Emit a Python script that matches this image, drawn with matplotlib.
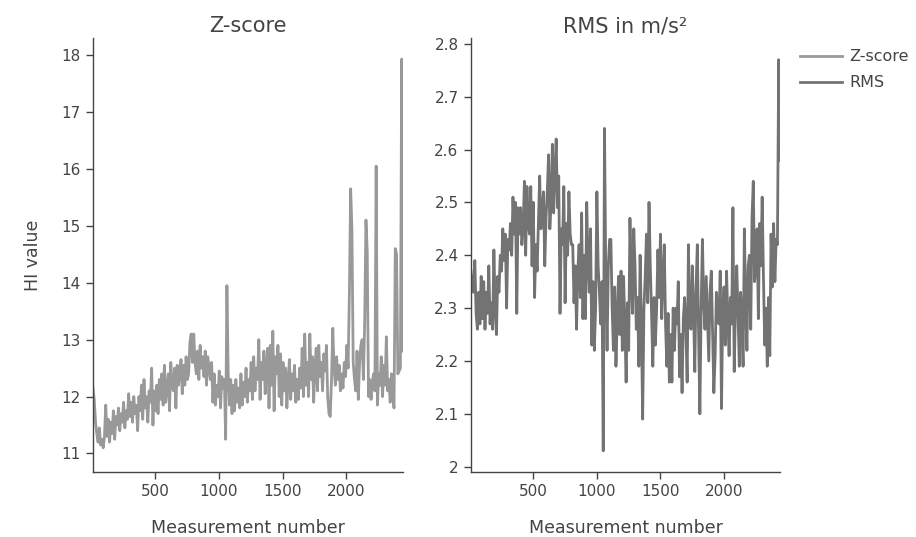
import numpy as np
import matplotlib
matplotlib.use("Agg")
import matplotlib.pyplot as plt
from matplotlib.ticker import FuncFormatter

# measurement numbers (every 10th measurement)
measurement = np.arange(13, 2444, 10)

zscore = [
    12.15, 11.95, 11.55, 11.35, 11.2, 11.45, 11.15, 11.25, 11.1, 11.3,
    11.85, 11.3, 11.6, 11.2, 11.55, 11.35, 11.75, 11.25, 11.65, 11.5,
    11.8, 11.4, 11.7, 11.55, 11.9, 11.45, 11.75, 11.6, 12.05, 11.65,
    11.9, 11.55, 12.0, 11.7, 11.85, 11.4, 12.0, 11.75, 12.2, 11.6,
    12.3, 11.8, 12.0, 11.55, 12.1, 11.9, 12.5, 11.5, 12.1, 11.75,
    12.2, 11.7, 12.3, 11.95, 12.4, 11.85, 12.55, 11.9, 12.15, 12.4,
    11.75, 12.6, 12.2, 12.1, 12.5, 11.8, 12.55, 12.2, 12.4, 12.65,
    12.05, 12.55, 12.2, 12.7, 12.3, 12.4, 12.95, 13.1, 12.6, 13.1,
    12.6, 12.4, 12.8, 12.3, 12.9, 12.5, 12.7, 12.35, 12.8, 12.2,
    12.7, 12.5, 12.3, 12.6, 11.9, 12.4, 11.85, 12.2, 12.0, 12.45,
    11.8, 12.35, 12.15, 12.3, 11.25, 13.95, 12.4, 11.85, 12.3, 11.7,
    12.2, 11.75, 12.3, 11.9, 12.15, 11.8, 12.4, 11.85, 12.25, 12.0,
    12.5, 11.9, 12.3, 12.1, 12.6, 11.95, 12.7, 12.1, 12.5, 12.3,
    13.0, 11.95, 12.6, 12.3, 12.8, 12.05, 12.55, 12.85, 11.8, 12.9,
    12.2, 13.15, 11.75, 12.7, 12.4, 12.9, 12.0, 12.75, 11.85, 12.6,
    12.1, 12.5, 11.8, 12.3, 12.65, 11.95, 12.4, 12.1, 12.55, 11.9,
    12.3, 11.95, 12.5, 12.15, 12.85, 12.0, 13.1, 12.2, 12.6, 12.0,
    13.1, 12.3, 12.7, 11.9, 12.5, 12.85, 12.1, 12.9, 12.35, 12.6,
    12.1, 12.75, 12.45, 12.9, 12.0, 11.7, 11.65, 12.3, 13.2, 12.5,
    12.2, 12.7, 12.3, 12.55, 12.1, 12.4, 12.15, 12.6, 12.35, 12.9,
    12.5, 13.8, 15.65, 14.95, 12.6, 12.3, 12.1, 12.8, 11.95, 12.6,
    12.9, 13.0, 12.3, 13.3, 15.1, 14.55, 12.0, 12.3, 11.95, 12.25,
    12.4, 12.1, 16.05, 11.85, 12.4, 12.2, 12.7, 12.0, 12.55, 12.2,
    13.05, 12.1, 12.3, 11.9, 12.4, 12.0, 11.8, 14.6, 14.5, 12.4,
    12.45, 12.5, 17.93, 12.8,
]

rms = [
    2.37, 2.34, 2.33, 2.39, 2.29, 2.26, 2.33, 2.27, 2.36, 2.28,
    2.35, 2.26, 2.33, 2.29, 2.38, 2.27, 2.31, 2.26, 2.41, 2.30,
    2.25, 2.36, 2.33, 2.40, 2.37, 2.45, 2.39, 2.44, 2.30, 2.43,
    2.41, 2.46, 2.40, 2.51, 2.44, 2.50, 2.29, 2.49, 2.44, 2.49,
    2.42, 2.45, 2.54, 2.40, 2.53, 2.46, 2.44, 2.53, 2.38, 2.50,
    2.32, 2.42, 2.37, 2.46, 2.55, 2.45, 2.48, 2.52, 2.38, 2.47,
    2.52, 2.59, 2.45, 2.50, 2.61, 2.48, 2.56, 2.62, 2.49, 2.55,
    2.29, 2.45, 2.42, 2.53, 2.31, 2.46, 2.40, 2.52, 2.44, 2.42,
    2.42, 2.31, 2.38, 2.26, 2.37, 2.42, 2.32, 2.48, 2.28, 2.40,
    2.28, 2.50, 2.39, 2.33, 2.45, 2.23, 2.35, 2.22, 2.30, 2.52,
    2.38, 2.33, 2.27, 2.35, 2.03, 2.64, 2.36, 2.22, 2.38, 2.43,
    2.43, 2.30, 2.22, 2.34, 2.19, 2.28, 2.36, 2.25, 2.37, 2.22,
    2.36, 2.27, 2.16, 2.31, 2.22, 2.47, 2.36, 2.29, 2.45, 2.38,
    2.26, 2.32, 2.19, 2.40, 2.27, 2.09, 2.30, 2.36, 2.44, 2.31,
    2.50, 2.38, 2.29, 2.19, 2.32, 2.23, 2.30, 2.41, 2.32, 2.44,
    2.28, 2.36, 2.42, 2.27, 2.19, 2.29, 2.16, 2.25, 2.16, 2.30,
    2.22, 2.30, 2.27, 2.35, 2.17, 2.25, 2.14, 2.28, 2.32, 2.26,
    2.16, 2.42, 2.27, 2.26, 2.38, 2.30, 2.18, 2.34, 2.42, 2.25,
    2.10, 2.30, 2.43, 2.31, 2.26, 2.36, 2.28, 2.20, 2.33, 2.37,
    2.25, 2.14, 2.21, 2.33, 2.29, 2.27, 2.37, 2.11, 2.30, 2.34,
    2.23, 2.37, 2.28, 2.21, 2.32, 2.27, 2.49, 2.18, 2.30, 2.38,
    2.29, 2.19, 2.33, 2.28, 2.19, 2.45, 2.31, 2.22, 2.38, 2.40,
    2.26, 2.47, 2.54, 2.35, 2.38, 2.45, 2.28, 2.46, 2.38, 2.51,
    2.36, 2.23, 2.30, 2.19, 2.32, 2.21, 2.44, 2.34, 2.46, 2.35,
    2.43, 2.42, 2.77, 2.58,
]

z_color = "#999999"
rms_color = "#737373"
axis_color = "#444444"

fig = plt.figure(figsize=(9.16, 5.37), dpi=100)
ax1 = fig.add_axes([0.1015, 0.1216, 0.3384, 0.8076])
ax2 = fig.add_axes([0.5142, 0.1216, 0.3373, 0.8076])

l1, = ax1.plot(measurement, zscore, color=z_color, lw=2.0, label="Z-score")
l2, = ax2.plot(measurement, rms, color=rms_color, lw=2.0, label="RMS")

ax1.set_ylim(10.68, 18.3)
ax1.set_yticks(range(11, 19))
ax2.set_ylim(1.9905, 2.811)
ax2.set_yticks([2.0, 2.1, 2.2, 2.3, 2.4, 2.5, 2.6, 2.7, 2.8])
ax2.yaxis.set_major_formatter(FuncFormatter(lambda v, p: "%g" % round(v, 2)))

for ax, title in [(ax1, "Z-score"), (ax2, "RMS in m/s²")]:
    ax.set_xlim(measurement[0], measurement[-1])
    ax.set_xticks([500, 1000, 1500, 2000])
    for s in ["top", "right"]:
        ax.spines[s].set_visible(False)
    for s in ["left", "bottom"]:
        ax.spines[s].set_color(axis_color)
        ax.spines[s].set_linewidth(1)
    ax.tick_params(colors=axis_color, labelcolor=axis_color, length=5,
                   width=1, labelsize=11, pad=4)
    ax.set_xlabel("Measurement number", fontsize=12.5, color=axis_color,
                  labelpad=14)
    ax.set_title(title, fontsize=15, color=axis_color, pad=4)

ax1.set_ylabel("HI value", fontsize=12.5, color=axis_color, labelpad=14)

fig.legend(handles=[l1, l2], loc="upper left", bbox_to_anchor=(0.858, 0.935),
           frameon=False, fontsize=11.5, handlelength=2.6, handletextpad=0.45,
           labelspacing=0.68, labelcolor=axis_color)

fig.savefig("out.png", dpi=100)
